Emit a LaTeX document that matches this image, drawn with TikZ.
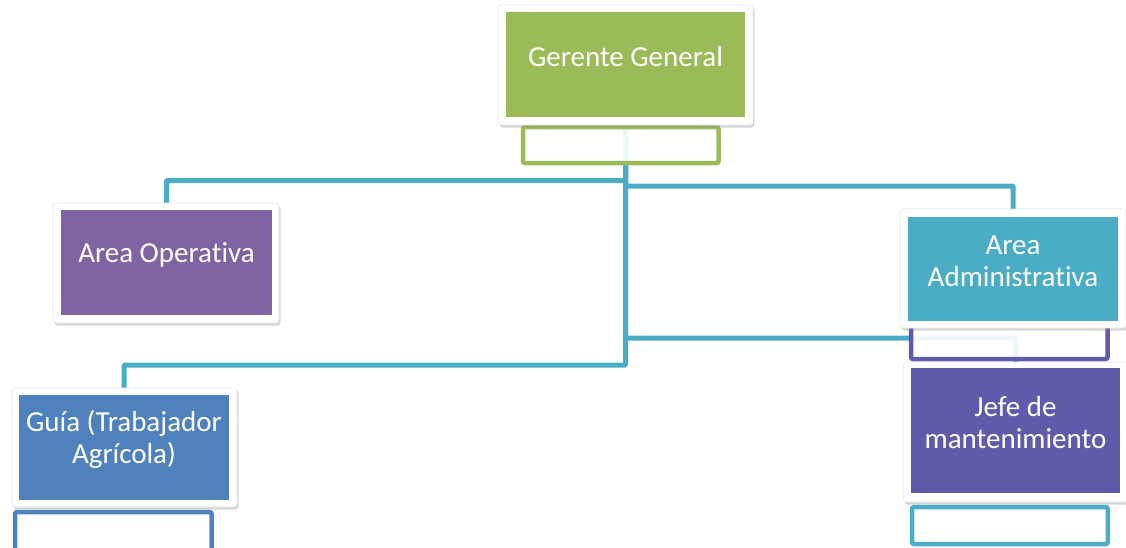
\documentclass[tikz,border=0pt]{standalone}
\usepackage{fontspec}
\setmainfont{Carlito}[Ligatures={NoCommon,NoContextual,NoRequired}]
\usetikzlibrary{shadows}
\pgfdeclarelayer{background}
\pgfsetlayers{background,main}
\definecolor{cgreen}{HTML}{9BBB59}
\definecolor{cpurple}{HTML}{8064A2}
\definecolor{cteal}{HTML}{4BACC6}
\definecolor{cblue}{HTML}{4F81BD}
\definecolor{cindigo}{HTML}{5F5AA9}
\definecolor{cframe}{HTML}{E6E6E6}
\newcommand{\nolig}{\kern0pt{}}
\begin{document}
\begin{tikzpicture}[x=1pt,y=-1pt,
  cardframe/.style={draw=cframe, line width=0.6pt, fill=white, rounded corners=3pt, inner sep=0pt,
    drop shadow={shadow xshift=1.5pt, shadow yshift=-2.5pt, opacity=0.32}},
  cardfill/.style={fill=#1, draw=none, inner sep=0pt},
  txt/.style={text=white, font=\fontsize{29}{31.7}\selectfont, align=center, inner sep=0pt},
  asst/.style={draw=#1, line width=4.5pt, fill=white, fill opacity=0.9, rounded corners=2pt, inner sep=0pt},
  conn/.style={draw=cteal, line width=5pt, rounded corners=1pt}
]
\useasboundingbox (0,0) rectangle (1126,547);

% assistant boxes
\node[asst=cgreen, minimum width=195.5pt, minimum height=36pt] (ggA) at (620.75,145) {};
\node[asst=cindigo, minimum width=196.5pt, minimum height=37pt] (aaA) at (1009.25,340.5) {};
\node[asst=cteal, minimum width=195.7pt, minimum height=37pt] (jmA) at (1009.9,525.5) {};
\node[asst=cblue, minimum width=196.5pt, minimum height=40pt] (guA) at (113.25,532) {};

% frames
\node[cardframe, minimum width=255pt, minimum height=120pt] (ggF) at (625.5,65) {};
\node[cardframe, minimum width=226pt, minimum height=120pt] (aoF) at (166,263) {};
\node[cardframe, minimum width=226pt, minimum height=119pt] (aaF) at (1013,268.5) {};
\node[cardframe, minimum width=225pt, minimum height=119pt] (guF) at (124.5,447.5) {};
\node[cardframe, minimum width=225pt, minimum height=140pt] (jmF) at (1015.5,432) {};

% coloured cards
\node[cardfill=cgreen, minimum width=239pt, minimum height=105pt] (gg) at (625.5,64.5) {};
\node[cardfill=cpurple, minimum width=211pt, minimum height=105pt] (ao) at (166.5,262.5) {};
\node[cardfill=cteal, minimum width=210pt, minimum height=104pt] (aa) at (1013,269) {};
\node[cardfill=cblue, minimum width=210pt, minimum height=105pt] (gu) at (124,447.5) {};
\node[cardfill=cindigo, minimum width=209pt, minimum height=125pt] (jm) at (1015.5,430.5) {};

% texts
\node[txt] (ggT) at ([yshift=8pt]gg.center) {Gerente General};
\node[txt] (aoT) at ([yshift=8pt]ao.center) {Area Operat\nolig iva};
\node[txt] (aaT) at ([yshift=8pt]aa.center) {Area\\Administrat\nolig iva};
\node[txt] (guT) at ([yshift=8pt]gu.center) {Guía (Trabajador\\Agrícola)};
\node[txt] (jmT) at ([yshift=8pt]jm.center) {Jefe de\\mantenimiento};

% connector levels
\coordinate (h1) at (0,180.5);
\coordinate (h2) at (0,186);
\coordinate (h3) at (0,338);
\coordinate (h4) at (0,365);

\begin{pgfonlayer}{background}
\draw[conn] (gg.south) -- (gg.south |- h1) -| (ao.north);
\draw[conn] (gg.south) -- (gg.south |- h2) -| (aa.north);
\draw[conn] (gg.south) -- (gg.south |- h3) -| (jm.north);
\draw[conn] (gg.south) -- (gg.south |- h4) -| (gu.north);
\end{pgfonlayer}
\end{tikzpicture}
\end{document}
